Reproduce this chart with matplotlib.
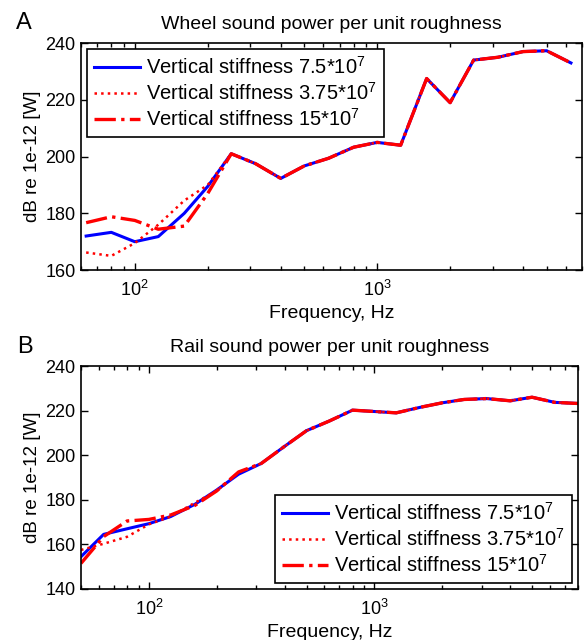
import numpy as np
import matplotlib
matplotlib.use('Agg')
import matplotlib.pyplot as plt
from matplotlib.ticker import LogLocator, NullFormatter

plt.rcParams['font.family'] = ['Liberation Sans', 'DejaVu Sans']
plt.rcParams['mathtext.fontset'] = 'custom'
plt.rcParams['mathtext.rm'] = 'Liberation Sans'
plt.rcParams['mathtext.it'] = 'Liberation Sans'
plt.rcParams['mathtext.bf'] = 'Liberation Sans'

# third octave bands
f_wheel = [63, 80, 100, 125, 160, 200, 250, 315, 400, 500, 630, 800, 1000,
           1250, 1600, 2000, 2500, 3150, 4000, 5000, 6300]
wheel_75 = [172, 173.3, 170, 171.8, 180, 189.5, 201, 197.5, 192.3, 196.7, 199.4,
            203.3, 205, 204, 227.5, 219, 234, 235, 237, 237.3, 233]
wheel_375 = [166.2, 165, 169.5, 176, 184.5, 190, 201, 197.5, 192.3, 196.7, 199.4,
             203.3, 205, 204, 227.5, 219, 234, 235, 237, 237.3, 233]
wheel_15 = [176.7, 178.8, 177.5, 174.4, 175.5, 187, 201, 197.5, 192.3, 196.7, 199.4,
            203.3, 205, 204, 227.5, 219, 234, 235, 237, 237.3, 233]

f_rail = [50, 63, 80, 100, 125, 160, 200, 250, 315, 400, 500, 630, 800, 1000,
          1250, 1600, 2000, 2500, 3150, 4000, 5000, 6300, 8000]
rail_75 = [154.5, 164.5, 167, 169.3, 172.5, 178, 184.4, 191.5, 196.3, 204, 211,
           215.3, 220.2, 219.6, 219, 221.5, 223.5, 225, 225.4, 224.4, 226, 223.7, 223.2]
rail_375 = [157.5, 160.3, 163.4, 169, 172.5, 178.7, 184, 192.3, 196.3, 204, 211,
            215.3, 220.2, 219.6, 219, 221.5, 223.5, 225, 225.4, 224.4, 226, 223.7, 223.2]
rail_15 = [151.5, 163.5, 170.5, 171.2, 173.2, 177.5, 184, 192.5, 196.3, 204, 211,
           215.3, 220.2, 219.6, 219, 221.5, 223.5, 225, 225.4, 224.4, 226, 223.7, 223.2]

labels = ['Vertical stiffness 7.5*10$^7$',
          'Vertical stiffness 3.75*10$^7$',
          'Vertical stiffness 15*10$^7$']

fig = plt.figure(figsize=(5.85, 6.4), dpi=100)
ax1 = fig.add_axes([0.1385, 0.578, 0.8564, 0.3547])
ax2 = fig.add_axes([0.1385, 0.0797, 0.8496, 0.3484])


def draw(ax, f, a, b, c, title, ylim, yticks, xlim, loc):
    ax.semilogx(f, a, '-', color='blue', lw=2.2, label=labels[0])
    ax.semilogx(f, b, ':', color='red', lw=1.8, label=labels[1])
    ax.semilogx(f, c, '-.', color='red', lw=2.4, label=labels[2])
    ax.set_xlim(xlim)
    ax.set_ylim(ylim)
    ax.set_yticks(yticks)
    ax.xaxis.set_major_locator(LogLocator(base=10, numticks=10))
    ax.xaxis.set_minor_locator(LogLocator(base=10, subs=np.arange(2, 10), numticks=10))
    ax.xaxis.set_minor_formatter(NullFormatter())
    ax.tick_params(which='both', direction='in', top=True, right=True,
                   labelsize=13, width=1.0)
    ax.tick_params(which='major', length=5, pad=4)
    ax.tick_params(axis='x', which='major', pad=7)
    ax.tick_params(which='minor', length=3)
    for s in ax.spines.values():
        s.set_linewidth(1.2)
    ax.set_title(title, fontsize=14, pad=10)
    ax.set_xlabel('Frequency, Hz', fontsize=14, labelpad=4)
    ax.set_ylabel('dB re 1e-12 [W]', fontsize=13.5, labelpad=3)
    leg = ax.legend(loc=loc, fontsize=14.5, fancybox=False, framealpha=1,
                    edgecolor='black', handlelength=2.3, handletextpad=0.3,
                    labelspacing=0.2, borderaxespad=0.3, borderpad=0.35)
    leg.get_frame().set_linewidth(1.2)


draw(ax1, f_wheel, wheel_75, wheel_375, wheel_15,
     'Wheel sound power per unit roughness', (160, 240),
     [160, 180, 200, 220, 240], (60, 7000), 'upper left')
draw(ax2, f_rail, rail_75, rail_375, rail_15,
     'Rail sound power per unit roughness', (140, 240),
     [140, 160, 180, 200, 220, 240], (50, 8000), 'lower right')

fig.text(16 / 585, 1 - 29 / 640, 'A', fontsize=17)
fig.text(17 / 585, 1 - 353 / 640, 'B', fontsize=17)

fig.savefig('out.png', dpi=100)
